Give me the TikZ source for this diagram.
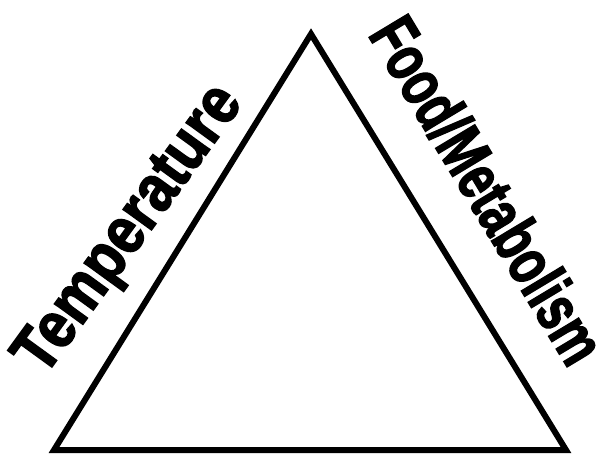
\documentclass[tikz,border=0pt]{standalone}
\usepackage{fontspec}
\setmainfont{Liberation Sans}[BoldFeatures={FakeBold=2.5}]
\begin{document}
\begin{tikzpicture}[x=1pt, y=-1pt, line join=miter,
    every node/.style={inner sep=0pt},
    sidelabel/.style={font=\bfseries\fontsize{66}{66}\selectfont}]

    % --- 1. corner positions ---
    % apex at the top, base along the bottom
    \def\xApex{311}
    \def\yApex{34}
    \def\xLeft{54}
    \def\xRight{566}
    \def\yBase{450}

    \useasboundingbox (0,0) rectangle (608,459);

    % --- 2. coordinates ---
    \coordinate (Apex)  at (\xApex,  \yApex);
    \coordinate (BaseL) at (\xLeft,  \yBase);
    \coordinate (BaseR) at (\xRight, \yBase);

    % --- 3. triangle ---
    \draw[line width=6pt] (Apex) -- (BaseR) -- (BaseL) -- cycle;

    % --- 4. side labels ---
    \node[sidelabel, rotate=54, xscale=0.86]  (Temp) at (131, 231) {Temperature};
    \node[sidelabel, rotate=-59, xscale=0.72] (Food) at (488, 190) {Food/Metabolism};

  \end{tikzpicture}
\end{document}
